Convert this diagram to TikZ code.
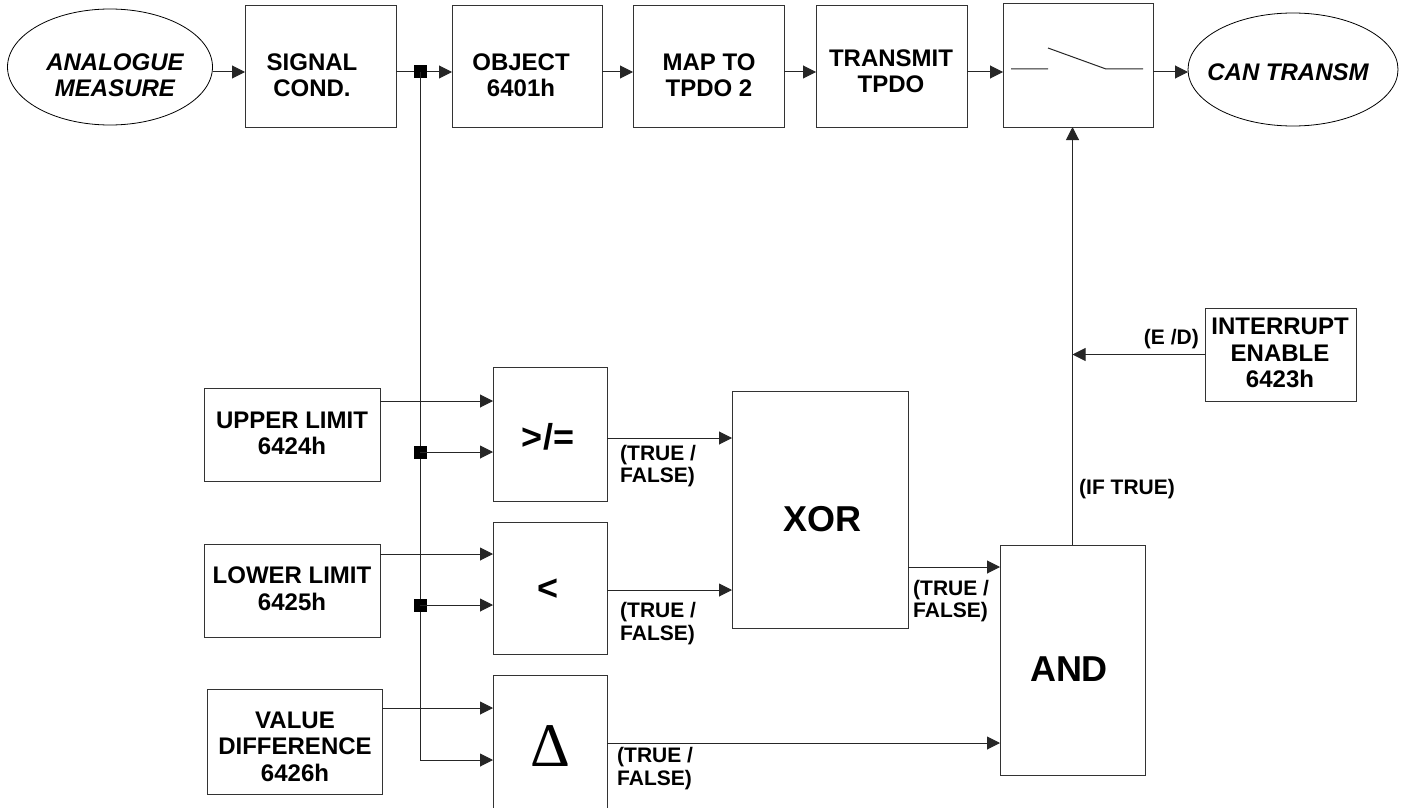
\documentclass[tikz,border=0pt]{standalone}
\usepackage{fontspec}
\setmainfont{Liberation Sans}
\newfontfamily\deltafont{Liberation Serif}
\usetikzlibrary{arrows.meta,shapes.geometric}
\tikzset{>={Triangle[length=13pt,width=13pt]}}
\tikzset{
  block/.style n args={2}{draw=black!80, line width=1pt, minimum width=#1, minimum height=#2, inner sep=0pt, outer sep=0pt},
  oval/.style n args={2}{ellipse, draw, line width=0.8pt, minimum width=#1, minimum height=#2, inner sep=0pt, outer sep=0pt},
  jdot/.style={fill, minimum size=13pt, inner sep=0pt},
  boxtxt/.style={font=\fontsize{24}{26.5}\selectfont\bfseries, align=center, inner sep=0pt},
  ovaltxt/.style={boxtxt, font=\fontsize{24}{26.5}\selectfont\bfseries\itshape},
  optxt/.style={font=\fontsize{36}{40}\selectfont\bfseries, inner sep=0pt},
  flag/.style={font=\fontsize{21}{22.5}\selectfont\bfseries, align=left, inner sep=0pt},
  wire/.style={line width=1pt, draw=black!85},
}

\begin{document}
\begin{tikzpicture}[x=1pt,y=-1pt]
\useasboundingbox (0,0) rectangle (1406,808);

% top row
\node[oval={205pt}{116pt}] (ana) at (110,67) {};
\node[ovaltxt] (ana-t) at (115,75) {ANALOGUE\\MEASURE};
\node[block={151pt}{121pt}] (sig) at (320.5,66.5) {};
\node[boxtxt] (sig-t) at (312,75) {SIGNAL\\COND.};
\node[block={150pt}{121pt}] (obj) at (527,66.5) {};
\node[boxtxt] (obj-t) at (521,75) {OBJECT\\6401h};
\node[block={151pt}{121pt}] (map) at (708.5,66.5) {};
\node[boxtxt] (map-t) at (709,75) {MAP TO\\TPDO 2};
\node[block={151pt}{121pt}] (tx) at (891.5,66.5) {};
\node[boxtxt] (tx-t) at (891,71) {TRANSMIT\\TPDO};
\node[block={150pt}{123pt}] (sw) at (1078,65.5) {};
\node[oval={210pt}{113pt}] (can) at (1293,69.5) {};
\node[ovaltxt] (can-t) at (1288,72) {CAN TRANSM};

% switch
\draw[wire] (1011,69) -- (1048,69) (1048,48) -- (1106,69) -- (1143,69);

\coordinate (row) at (0,72);
\draw[wire,->] (ana.east |- row) -- (sig.west |- row);
\draw[wire,->] (sig.east |- row) -- (obj.west |- row);
\draw[wire,->] (obj.east |- row) -- (map.west |- row);
\draw[wire,->] (map.east |- row) -- (tx.west |- row);
\draw[wire,->] (tx.east |- row) -- (sw.west |- row);
\draw[wire,->] (sw.east |- row) -- (can.west |- row);
\node[jdot] (j0) at (420,72) {};

% limit blocks
\node[block={176pt}{93pt}] (up) at (292,434.5) {};
\node[boxtxt] (up-t) at (292,433.5) {UPPER LIMIT\\6424h};
\node[block={176pt}{93pt}] (lo) at (292,590.5) {};
\node[boxtxt] (lo-t) at (292,588.5) {LOWER LIMIT\\6425h};
\node[block={175pt}{105pt}] (vd) at (294.5,741.5) {};
\node[boxtxt] (vd-t) at (295,746.5) {VALUE\\DIFFERENCE\\6426h};

% compare blocks
\node[block={114pt}{134pt}] (ge) at (550,434) {};
\node[optxt] (ge-t) at (548,437) {>/=};
\node[block={114pt}{132pt}] (lt) at (550,588) {};
\node[optxt] (lt-t) at (548,590) {<};
\node[block={114pt}{136pt}] (dl) at (550,743) {};
\node[font=\deltafont\fontsize{62}{62}\selectfont, inner sep=0pt] (dl-t) at (550,746) {Δ};

\coordinate (ge-a) at ([yshift=33pt]ge.west);
\coordinate (ge-b) at ([yshift=-18pt]ge.west);
\coordinate (lt-a) at ([yshift=34pt]lt.west);
\coordinate (lt-b) at ([yshift=-17pt]lt.west);
\coordinate (dl-a) at ([yshift=35pt]dl.west);
\coordinate (dl-b) at ([yshift=-17pt]dl.west);

% bus from signal cond.
\draw[wire,->] (j0.center) |- (dl-b);
\node[jdot] (j1) at (j0 |- ge-b) {};
\node[jdot] (j2) at (j0 |- lt-b) {};
\draw[wire,->] (j1.center) -- (ge-b);
\draw[wire,->] (j2.center) -- (lt-b);
\draw[wire,->] (up.east |- ge-a) -- (ge-a);
\draw[wire,->] (lo.east |- lt-a) -- (lt-a);
\draw[wire,->] (vd.east |- dl-a) -- (dl-a);

% logic
\node[block={176pt}{237pt}] (xor) at (820,509.5) {};
\node[optxt] (xor-t) at (822,519) {XOR};
\node[block={145pt}{230pt}] (and) at (1072.5,660) {};
\node[optxt] (and-t) at (1069,669) {AND};
\node[block={151pt}{93pt}] (int) at (1280.5,354.5) {};
\node[boxtxt] (int-t) at (1280,353) {INTERRUPT\\ENABLE\\6423h};

\draw[wire,->] ([yshift=-4pt]ge.east) -- ([yshift=-4pt]ge.east -| xor.west);
\draw[wire,->] ([yshift=-2pt]lt.east) -- ([yshift=-2pt]lt.east -| xor.west);
\draw[wire,->] (dl.east) -- (dl.east -| and.west);
\draw[wire,->] ([yshift=-57.5pt]xor.east) -- ([yshift=-57.5pt]xor.east -| and.west);
\draw[wire,->] (and.north) -- (and.north |- sw.south);
\draw[wire,->] (int.west) -- (int.west -| and.north);

% flags
\node[flag, anchor=west] (ge-f) at (620,466) {(TRUE /\\FALSE)};
\node[flag, anchor=west] (lt-f) at (620,623.5) {(TRUE /\\FALSE)};
\node[flag, anchor=west] (dl-f) at (617,768.5) {(TRUE /\\FALSE)};
\node[flag, anchor=west] (xor-f) at (913,601) {(TRUE /\\FALSE)};
\node[flag, anchor=east] (int-f) at (1199,339) {(E /D)};
\node[flag, anchor=west] (and-f) at (1079,489) {(IF TRUE)};
\end{tikzpicture}
\end{document}
